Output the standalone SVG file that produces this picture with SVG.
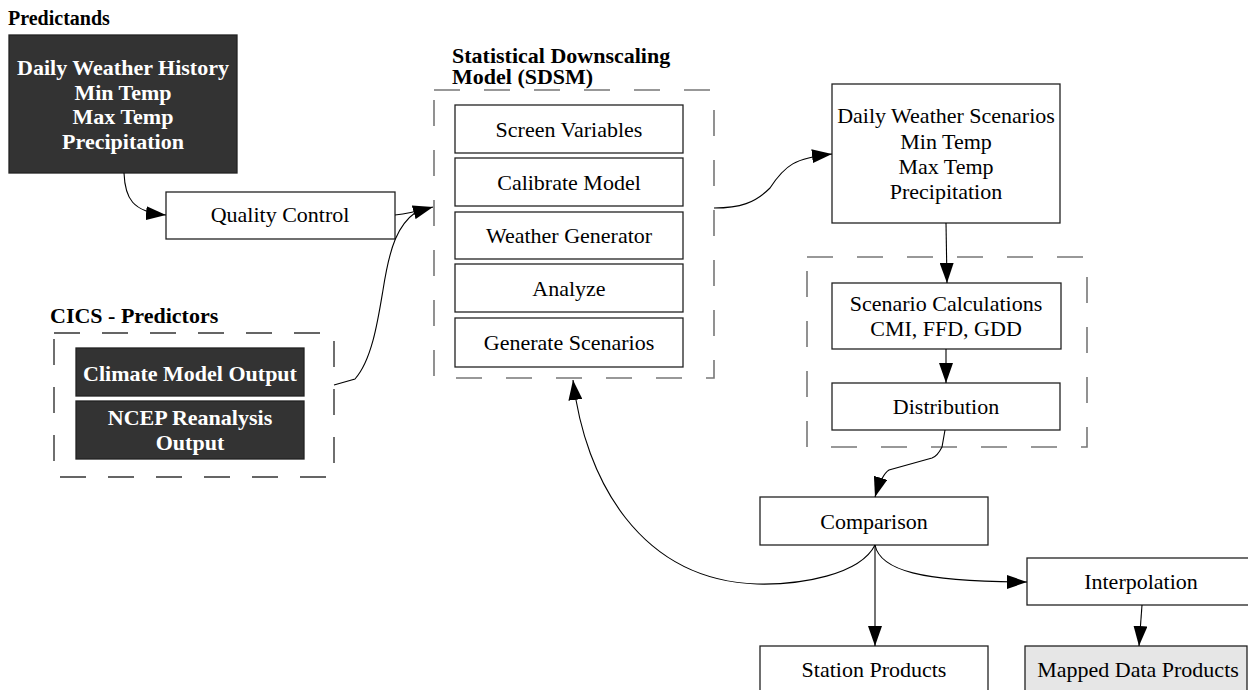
<svg xmlns="http://www.w3.org/2000/svg" width="1248" height="690" viewBox="0 0 1248 690">
<defs>
<marker id="ah" markerUnits="userSpaceOnUse" markerWidth="20" markerHeight="14" refX="20" refY="7" orient="auto">
<path d="M0,0 L20,7 L0,14 z" fill="#000"/>
</marker>
<style>
text{font-family:"Liberation Serif","Times New Roman",serif;font-size:22px;fill:#000}
.b{font-weight:bold}
.w{fill:#fff;font-weight:bold}
.c{text-anchor:middle}
.box{fill:#fff;stroke:#222;stroke-width:1.3}
.dark{fill:#333;stroke:#222;stroke-width:1.3}
.grey{fill:#e6e6e6;stroke:#222;stroke-width:1.3}
.dash{fill:none;stroke:#777;stroke-width:1.6;stroke-dasharray:26 24}
.dashk{fill:none;stroke:#333;stroke-width:1.4;stroke-dasharray:26 22}
.conn path{fill:none;stroke:#000;stroke-width:1.1}
</style>
</defs>

<g id="predictands">
<text class="b" x="8" y="25" style="font-size:20px">Predictands</text>
<rect class="dark" x="9" y="35" width="228" height="138"/>
<text class="w c" x="123" y="75">Daily Weather History</text>
<text class="w c" x="123" y="99.5">Min Temp</text>
<text class="w c" x="123" y="124">Max Temp</text>
<text class="w c" x="123" y="148.5">Precipitation</text>
</g>

<g id="quality-control">
<rect class="box" x="166" y="192" width="229" height="47"/>
<text class="c" x="280" y="222">Quality Control</text>
</g>

<g id="cics">
<text class="b" x="50" y="323">CICS - Predictors</text>
<rect class="dashk" x="54" y="333" width="280" height="144"/>
<g id="climate-model">
<rect class="dark" x="76" y="348" width="228" height="48"/>
<text class="w c" x="190" y="381">Climate Model Output</text>
</g>
<g id="ncep">
<rect class="dark" x="76" y="401" width="228" height="58"/>
<text class="w c" x="190" y="425">NCEP Reanalysis</text>
<text class="w c" x="190" y="450">Output</text>
</g>
</g>

<g id="sdsm">
<text class="b" x="452" y="63">Statistical Downscaling</text>
<text class="b" x="452" y="84">Model (SDSM)</text>
<rect class="dash" x="434" y="90" width="280" height="288"/>
<g id="screen"><rect class="box" x="455" y="105" width="228" height="48"/><text class="c" x="569" y="136.5">Screen Variables</text></g>
<g id="calibrate"><rect class="box" x="455" y="158" width="228" height="48"/><text class="c" x="569" y="189.5">Calibrate Model</text></g>
<g id="weather-gen"><rect class="box" x="455" y="212" width="228" height="47"/><text class="c" x="569" y="243">Weather Generator</text></g>
<g id="analyze"><rect class="box" x="455" y="264" width="228" height="48"/><text class="c" x="569" y="295.5">Analyze</text></g>
<g id="generate"><rect class="box" x="455" y="318" width="228" height="49"/><text class="c" x="569" y="350">Generate Scenarios</text></g>
</g>

<g id="scenarios">
<rect class="box" x="832" y="84" width="228" height="139"/>
<text class="c" x="946" y="123">Daily Weather Scenarios</text>
<text class="c" x="946" y="149">Min Temp</text>
<text class="c" x="946" y="174">Max Temp</text>
<text class="c" x="946" y="199">Precipitation</text>
</g>

<g id="calc-group">
<rect class="dash" x="807" y="257" width="280" height="190"/>
<g id="scenario-calc">
<rect class="box" x="832" y="283" width="229" height="66"/>
<text class="c" x="946" y="310.5">Scenario Calculations</text>
<text class="c" x="946" y="336">CMI, FFD, GDD</text>
</g>
<g id="distribution">
<rect class="box" x="832" y="383" width="228" height="47"/>
<text class="c" x="946" y="414">Distribution</text>
</g>
</g>

<g id="comparison">
<rect class="box" x="760" y="497" width="228" height="48"/>
<text class="c" x="874" y="528.5">Comparison</text>
</g>

<g id="interpolation">
<rect class="box" x="1027" y="558" width="228" height="47"/>
<text class="c" x="1141" y="589">Interpolation</text>
</g>

<g id="station">
<rect class="box" x="760" y="646" width="228" height="50"/>
<text class="c" x="874" y="677">Station Products</text>
</g>

<g id="mapped">
<rect class="grey" x="1025" y="646" width="222" height="50"/>
<text class="c" x="1138" y="677">Mapped Data Products</text>
</g>

<g id="connectors" class="conn">
<path d="M124,173 C125,198 132,212 166,215" marker-end="url(#ah)"/>
<path d="M395,215 C405,214 415,212 433,207" marker-end="url(#ah)"/>
<path d="M334,385 L355,379 C372,360 378,320 383,290 C390,245 398,225 416,212"/>
<path d="M714,208 C740,208 755,203 770,188 C785,165 795,158 832,154" marker-end="url(#ah)"/>
<path d="M946,223 L947,283" marker-end="url(#ah)"/>
<path d="M946,349 L946,383" marker-end="url(#ah)"/>
<path d="M945,430 L942,447 C938,455 935,457 932,458 L889,470 C884,473 880,480 875,497" marker-end="url(#ah)"/>
<path d="M875,545 L875,646" marker-end="url(#ah)"/>
<path d="M875,545 C880,570 920,582 1027,582" marker-end="url(#ah)"/>
<path d="M875,545 C860,575 800,585 757,584 C640,580 585,480 573,380" marker-end="url(#ah)"/>
<path d="M1142,605 L1139,646" marker-end="url(#ah)"/>
</g>
</svg>
